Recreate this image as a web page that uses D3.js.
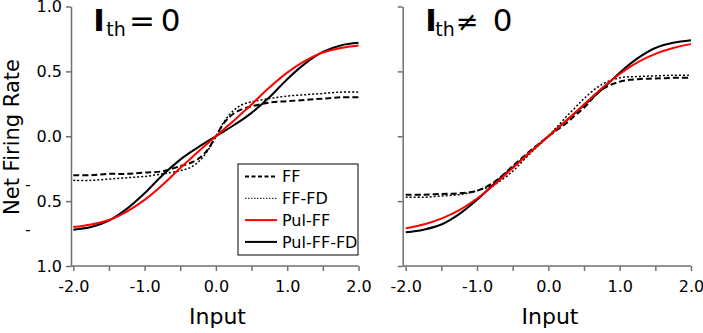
<!DOCTYPE html>
<html>
<head>
<meta charset="utf-8">
<script src="https://cdn.jsdelivr.net/npm/d3@7"></script>
<style>
    body { margin: 0; background: #fff; }
    svg { display: block; font-family: "DejaVu Sans", sans-serif; }
    .axis path, .axis line { stroke: #707070; stroke-width: 1.5; }
    .axis text { fill: #000; font-size: 16px; font-family: "DejaVu Sans", sans-serif; }
</style>
</head>
<body>
<svg id="chart" width="703" height="333"></svg>
<script>
// input values shared by every curve
const inputs = [-2, -1.75, -1.5, -1.25, -1, -0.75, -0.5, -0.375, -0.25, -0.125, 0,
                0.125, 0.25, 0.375, 0.5, 0.75, 1, 1.25, 1.5, 1.75, 2];

// I_th = 0 (left panel)
const leftFF      = [-0.30, -0.30, -0.29, -0.29, -0.28, -0.27, -0.23, -0.21, -0.175, -0.11, 0,
                     0.11, 0.175, 0.21, 0.23, 0.26, 0.27, 0.28, 0.29, 0.30, 0.30];
const leftFFFD    = [-0.34, -0.34, -0.33, -0.32, -0.31, -0.29, -0.265, -0.245, -0.20, -0.12, 0,
                     0.12, 0.20, 0.245, 0.265, 0.29, 0.31, 0.32, 0.33, 0.34, 0.34];
const leftPulFF   = [-0.70, -0.68, -0.645, -0.58, -0.49, -0.375, -0.245, -0.183, -0.12, -0.06, 0,
                     0.06, 0.12, 0.183, 0.245, 0.375, 0.49, 0.58, 0.645, 0.68, 0.70];
const leftPulFFFD = [-0.72, -0.70, -0.65, -0.56, -0.44, -0.30, -0.18, -0.13, -0.085, -0.042, 0,
                     0.042, 0.085, 0.13, 0.18, 0.30, 0.44, 0.56, 0.65, 0.70, 0.72];

// I_th != 0 (right panel)
const rightFF      = [-0.45, -0.45, -0.445, -0.44, -0.42, -0.35, -0.23, -0.17, -0.11, -0.055, 0,
                      0.05, 0.10, 0.16, 0.22, 0.36, 0.42, 0.44, 0.445, 0.45, 0.45];
const rightFFFD    = [-0.47, -0.47, -0.46, -0.45, -0.42, -0.37, -0.27, -0.20, -0.13, -0.065, 0,
                      0.075, 0.15, 0.22, 0.29, 0.40, 0.45, 0.46, 0.465, 0.47, 0.47];
const rightPulFF   = [-0.71, -0.68, -0.635, -0.57, -0.48, -0.37, -0.245, -0.183, -0.12, -0.06, 0,
                      0.06, 0.12, 0.183, 0.245, 0.37, 0.48, 0.57, 0.635, 0.68, 0.71];
const rightPulFFFD = [-0.74, -0.72, -0.68, -0.60, -0.49, -0.36, -0.24, -0.18, -0.12, -0.06, 0,
                      0.06, 0.12, 0.18, 0.24, 0.36, 0.49, 0.60, 0.68, 0.72, 0.74];

const seriesNames = ['FF', 'FF-FD', 'Pul-FF', 'Pul-FF-FD'];
const xTickValues = [-2, -1.5, -1, -0.5, 0, 0.5, 1, 1.5, 2];
const yTickValues = [-1, -0.5, 0, 0.5, 1];

const styles = {
    'FF':        { color: '#000', width: 2,   dash: '6,3' },
    'FF-FD':     { color: '#000', width: 1.5, dash: '2,2' },
    'Pul-FF':    { color: '#ff0000', width: 2, dash: null },
    'Pul-FF-FD': { color: '#000', width: 2,   dash: null }
};

const svg = d3.select('#chart');

const yScale = d3.scaleLinear().domain([-1, 1]).range([266, 6.5]);

const panels = [
    { x0: 73.3, x1: 358.5, axisX: 71, labels: true,
      series: [leftFF, leftFFFD, leftPulFF, leftPulFFFD],
      title: [{ t: 'I', x: 99, b: true }, { t: 'th', x: 116, sub: true }, { t: '=', x: 142 }, { t: '0', x: 170.5 }],
      inputX: 217.5 },
    { x0: 405.7, x1: 691, axisX: 402.7, labels: false,
      series: [rightFF, rightFFFD, rightPulFF, rightPulFFFD],
      title: [{ t: 'I', x: 431, b: true }, { t: 'th', x: 445, sub: true }, { t: '\u2260', x: 467, small: true }, { t: '0', x: 502.5 }],
      inputX: 550 }
];

const drawOrder = ['FF', 'FF-FD', 'Pul-FF-FD', 'Pul-FF'];

panels.forEach(p => {
    const xScale = d3.scaleLinear().domain([-2, 2]).range([p.x0, p.x1]);

    // x axis
    const xAxis = d3.axisBottom(xScale)
        .tickValues(xTickValues)
        .tickSize(5)
        .tickSizeOuter(0)
        .tickPadding(10)
        .tickFormat(d => Number.isInteger(d) ? d.toFixed(1) : '');
    const gx = svg.append('g')
        .attr('class', 'axis')
        .attr('transform', `translate(0,${yScale(-1)})`)
        .call(xAxis);
    gx.select('.domain').attr('d', `M${p.axisX},0H${p.x1}`);

    // y axis
    const yAxis = d3.axisLeft(yScale)
        .tickValues(yTickValues)
        .tickSize(5)
        .tickSizeOuter(0)
        .tickPadding(4)
        .tickFormat(d => p.labels ? Math.abs(d).toFixed(1) : '');
    svg.append('g')
        .attr('class', 'axis')
        .attr('transform', `translate(${p.axisX},0)`)
        .call(yAxis);

    // curves
    const line = d3.line()
        .x(d => xScale(d.x))
        .y(d => yScale(d.y))
        .curve(d3.curveCatmullRom.alpha(0.5));

    drawOrder.forEach(name => {
        const vals = p.series[seriesNames.indexOf(name)];
        const st = styles[name];
        svg.append('path')
            .datum(inputs.map((x, i) => ({ x, y: vals[i] })))
            .attr('d', line)
            .attr('fill', 'none')
            .attr('stroke', st.color)
            .attr('stroke-width', st.width)
            .attr('stroke-dasharray', st.dash);
    });

    // panel title
    p.title.forEach(t => {
        svg.append('text')
            .attr('x', t.x)
            .attr('y', t.sub ? 36 : 31)
            .attr('text-anchor', 'middle')
            .attr('font-size', t.sub ? 19 : (t.small ? 27 : 31))
            .attr('font-weight', t.b ? 'bold' : 'normal')
            .text(t.t);
    });

    svg.append('text')
        .attr('x', p.inputX)
        .attr('y', 324)
        .attr('text-anchor', 'middle')
        .attr('font-size', 22)
        .text('Input');
});

// stray minus signs beside the negative y labels
[[-0.5, -16], [-1, -36]].forEach(([v, off]) => {
    svg.append('text')
        .attr('x', 28)
        .attr('y', yScale(v) + off + 5)
        .attr('text-anchor', 'middle')
        .attr('font-size', 16)
        .text('-');
});

svg.append('text')
    .attr('transform', 'translate(19,137) rotate(-90)')
    .attr('text-anchor', 'middle')
    .attr('font-size', 21)
    .text('Net Firing Rate');

// legend
const legend = svg.append('g').attr('transform', 'translate(238,164)');
legend.append('rect')
    .attr('width', 120)
    .attr('height', 91)
    .attr('fill', '#fff')
    .attr('stroke', '#000')
    .attr('stroke-width', 1);

seriesNames.forEach((name, i) => {
    const y = 12.5 + i * 21.8;
    const st = styles[name];
    legend.append('line')
        .attr('x1', 7).attr('x2', 39)
        .attr('y1', y).attr('y2', y)
        .attr('stroke', st.color)
        .attr('stroke-width', name === 'FF-FD' ? 1 : st.width)
        .attr('stroke-dasharray', name === 'FF' ? '4,2.5' : (name === 'FF-FD' ? '1.5,1.5' : null));
    legend.append('text')
        .attr('x', 44)
        .attr('y', y)
        .attr('dy', '0.36em')
        .attr('font-size', 16)
        .text(name);
});
</script>
</body>
</html>
